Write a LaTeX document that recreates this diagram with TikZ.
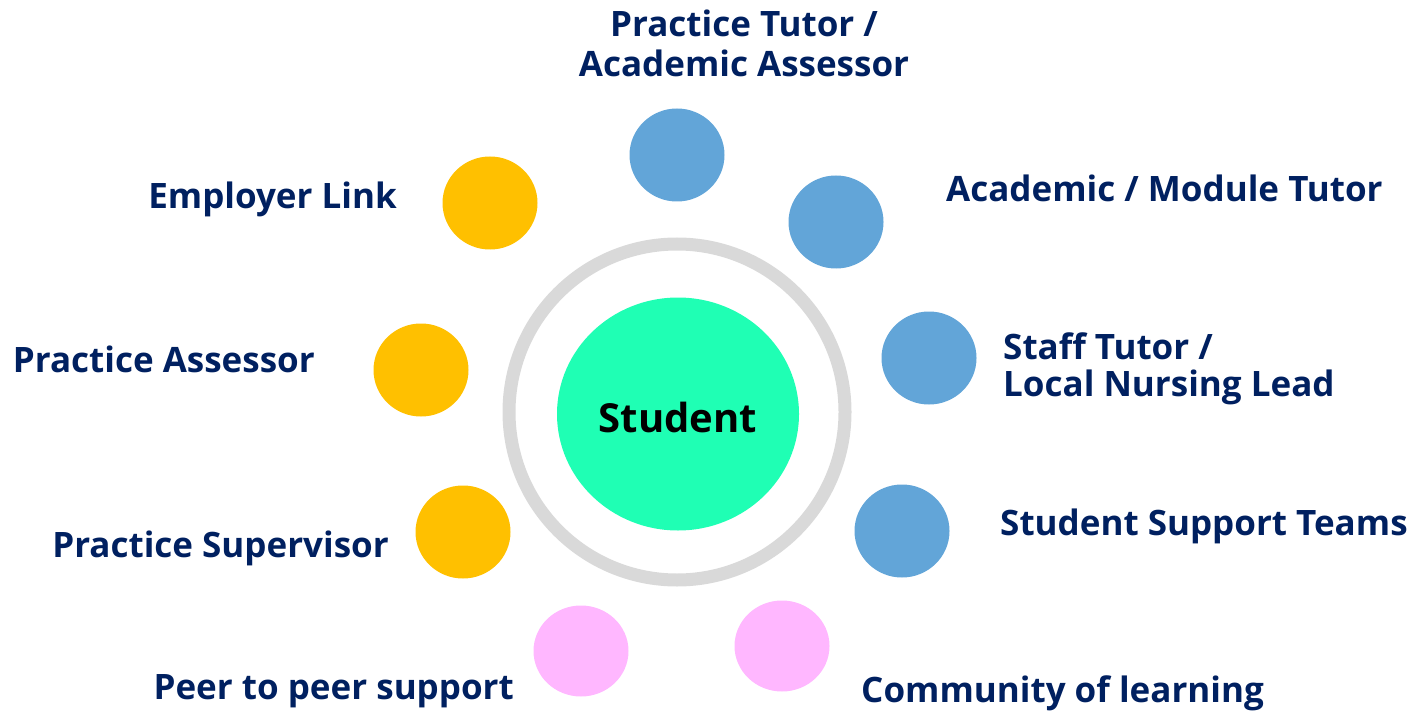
\documentclass[tikz,border=0pt]{standalone}
\usepackage{fontspec}
\setmainfont{Open Sans}
\usetikzlibrary{shapes.geometric}
\definecolor{navy}{RGB}{0,32,96}
\definecolor{bluec}{RGB}{98,165,216}
\definecolor{yellowc}{RGB}{255,192,0}
\definecolor{pinkc}{RGB}{255,183,255}
\definecolor{greenc}{RGB}{31,255,180}
\definecolor{ringc}{RGB}{217,217,217}
\tikzset{
  dot/.style={ellipse, inner sep=0pt, minimum width=95pt, minimum height=93pt, draw=none},
  bdot/.style={dot, fill=bluec},
  ydot/.style={dot, fill=yellowc},
  pdot/.style={dot, fill=pinkc, minimum height=91pt},
  lbl/.style={inner sep=0pt, text=navy, font=\fontsize{35}{36}\selectfont\bfseries},
}
\begin{document}
\begin{tikzpicture}[x=1pt,y=-1pt]
\useasboundingbox (0,0) rectangle (1420,711);
\node[circle, draw=ringc, line width=13pt, minimum size=336pt, inner sep=0pt] (ring) at (677,412) {};
\node[ellipse, fill=greenc, minimum width=242pt, minimum height=233pt, inner sep=0pt] (student) at (678,414) {};
\node[inner sep=0pt, anchor=base, font=\fontsize{40}{42}\selectfont\bfseries] (studenttxt) at (678,432) {Student};

\node[bdot] (b1) at (677,155) {};
\node[bdot] (b2) at (836,222) {};
\node[bdot] (b3) at (929,358) {};
\node[bdot] (b4) at (902,531) {};
\node[ydot] (y1) at (490,203) {};
\node[ydot] (y2) at (421,370) {};
\node[ydot] (y3) at (463,532) {};
\node[pdot] (p1) at (581,651) {};
\node[pdot] (p2) at (782,646) {};

\node[lbl, anchor=base] (t1a) at (744,37) {Practice Tutor /};
\node[lbl, anchor=base] (t1b) at (744,77) {Academic Assessor};
\node[lbl, anchor=base east] (t2) at (397,209) {Employer Link};
\node[lbl, anchor=base west] (t3) at (946,202) {Academic / Module Tutor};
\node[lbl, anchor=base west] (t4a) at (1003,359) {Staff Tutor /};
\node[lbl, anchor=base west] (t4b) at (1003,396) {Local Nursing Lead};
\node[lbl, anchor=base east] (t5) at (315,372) {Practice Assessor};
\node[lbl, anchor=base west] (t6) at (1000,535) {Student Support Teams};
\node[lbl, anchor=base east] (t7) at (389,557) {Practice Supervisor};
\node[lbl, anchor=base east] (t8) at (514,699) {Peer to peer support};
\node[lbl, anchor=base west] (t9) at (861,702) {Community of learning};
\end{tikzpicture}
\end{document}
